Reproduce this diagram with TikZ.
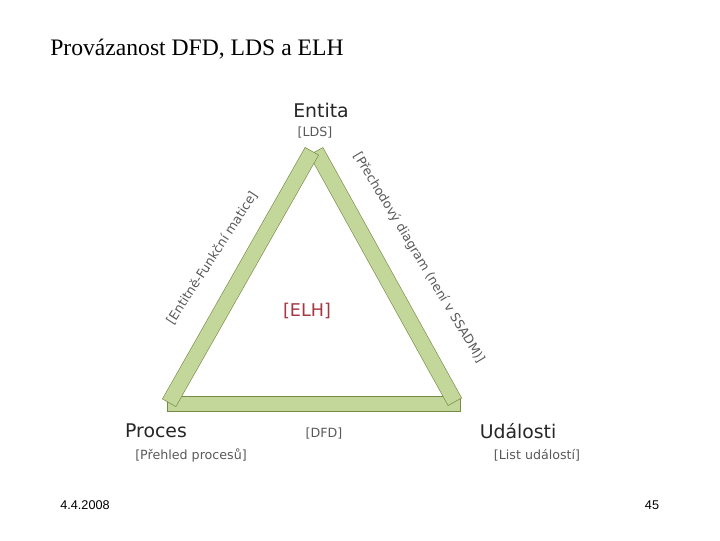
\documentclass[tikz,border=0pt]{standalone}
\usepackage{fontspec}
\setmainfont{Liberation Serif}
\newfontfamily\dejavu{DejaVu Sans}
\newfontfamily\arialfont{Liberation Sans}
\usepackage{tikz}
\definecolor{barfill}{RGB}{196,215,155}
\definecolor{barline}{RGB}{118,140,70}
\definecolor{elhred}{RGB}{165,55,65}
\tikzset{
  vertex/.style={font=\dejavu\fontsize{13.4}{15}\selectfont, text=black!85, inner sep=0pt},
  note/.style={font=\dejavu\fontsize{9}{11}\selectfont, text=black!65, inner sep=0pt},
  barout/.style={line width=11.4pt, draw=barline},
  barin/.style={line width=10.5pt, draw=barfill, shorten <=0.5pt, shorten >=0.5pt},
}

\begin{document}
\begin{tikzpicture}[x=0.025cm, y=-0.025cm]
        \useasboundingbox (0,0) rectangle (720,540);

        \node[anchor=base west, inner sep=0pt, font=\fontsize{16.8}{20}\selectfont] (title) at (50,55) {Provázanost DFD, LDS a ELH};

        \node[vertex] (entita) at (321,110) {Entita};
        \node[note] (lds) at (315,133) {[LDS]};
        \node[vertex] (proces) at (156,431) {Proces};
        \node[note] (prehled) at (191,455) {[Přehled procesů]};
        \node[vertex] (udalosti) at (518,431) {Události};
        \node[note] (list) at (537,455) {[List událostí]};
        \node[note] (dfd) at (324,434) {[DFD]};
        \node[note, font=\dejavu\fontsize{12.5}{14}\selectfont, text=elhred] (elh) at (307,311) {[ELH]};

        % bar ends
        \coordinate (bl) at (167,404);
        \coordinate (br) at (461,404);
        \coordinate (lb) at (169,403);
        \coordinate (lt) at (312,151);
        \coordinate (rt) at (316,151);
        \coordinate (rb) at (455,402);

        \draw[barout] (bl) -- (br);
        \draw[barin] (bl) -- (br);
        \draw[barout] (rt) -- (rb);
        \draw[barin] (rt) -- (rb);
        \draw[barout] (lb) -- (lt);
        \draw[barin] (lb) -- (lt);

        \node[note, rotate=57] (efm) at (212,258) {[Entitně-Funkční matice]};
        \node[note, rotate=-59] (prechod) at (419,258) {[Přechodový diagram (není v SSADM)]};

        \node[inner sep=0pt, font=\arialfont\fontsize{9}{11}\selectfont] (datum) at (85,505) {4.4.2008};
        \node[inner sep=0pt, font=\arialfont\fontsize{9}{11}\selectfont] (strana) at (652,505) {45};
\end{tikzpicture}
\end{document}
